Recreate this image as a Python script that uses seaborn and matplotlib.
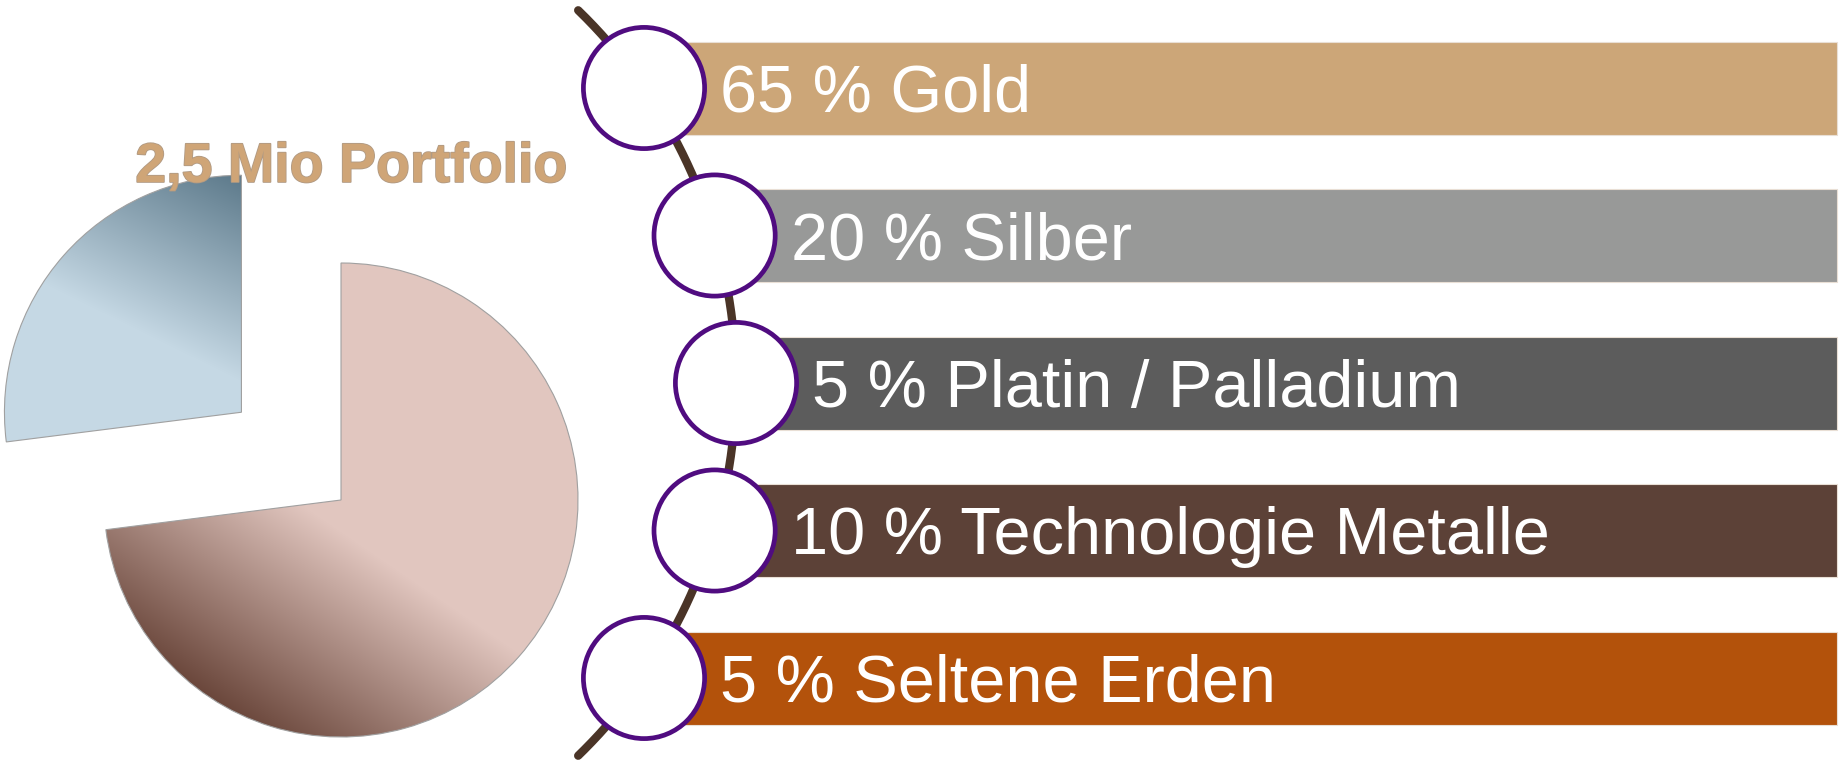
import numpy as np
import matplotlib
matplotlib.use("Agg")
import matplotlib.pyplot as plt
import matplotlib.patheffects as pe
from matplotlib.patches import Circle
from matplotlib.colors import to_rgb
import seaborn as sns

sns.set_theme(style="white")
plt.rcParams["font.family"] = ["Liberation Sans", "DejaVu Sans"]

# ---------- data ----------
title = "2,5 Mio Portfolio"
pie_shares = [73, 27]
pie_light = ["#e1c6bf", "#c5d8e4"]
pie_dark = ["#5a3529", "#5d7a8b"]

metals = ["Gold", "Silber", "Platin / Palladium", "Technologie Metalle", "Seltene Erden"]
metal_pct = [65, 20, 5, 10, 5]
metal_colors = ["#cca678", "#989998", "#5c5c5c", "#5c4137", "#b3520b"]

# canvas in pixel units (y up)
W, H = 1843, 761
fig = plt.figure(figsize=(W / 100, H / 100), dpi=100)
ax = fig.add_axes([0, 0, 1, 1])

# ---------- pie with gradient fills ----------
pie_r = 237
wedges, _ = ax.pie(pie_shares, startangle=90, counterclock=False,
                   explode=[0, 0.56 * pie_r],
                   center=(341, H - 500), radius=pie_r,
                   wedgeprops=dict(edgecolor="#a0a0a0", linewidth=0.8))

xx, yy = np.meshgrid(np.arange(W) + 0.5, np.arange(H) + 0.5)  # yy measured from top


def shade(wedge, light, dark, p0, nrm, span):
    t = ((xx - p0[0]) * nrm[0] + (yy - p0[1]) * nrm[1]) / span
    t = np.clip(t, 0, 1)[..., None]
    img = np.array(to_rgb(light)) * (1 - t) + np.array(to_rgb(dark)) * t
    im = ax.imshow(img, extent=(0, W, 0, H), origin="upper", zorder=1.5,
                   interpolation="bilinear")
    im.set_clip_path(wedge)
    wedge.set_facecolor("none")
    wedge.set_zorder(1.6)


shade(wedges[0], pie_light[0], pie_dark[0], (344, 534), (-0.564, 0.826), 240)
shade(wedges[1], pie_light[1], pie_dark[1], (59, 291), (0.443, -0.896), 183)

ax.text(351, H - 182, title, ha="center", va="baseline", fontsize=40,
        fontweight="bold", color="#cfa577", zorder=7,
        path_effects=[pe.withStroke(linewidth=1.2, foreground="#b09a84")])

# ---------- arc + circle list ----------
arc_cx, arc_cy, arc_r = 217, 383, 519
ang = np.radians(np.linspace(-45.9, 45.9, 300))
ax.plot(arc_cx + arc_r * np.cos(ang), H - (arc_cy + arc_r * np.sin(ang)),
        color="#4a3427", lw=6, solid_capstyle="round", zorder=3)

row_y = [88 + 147.5 * i for i in range(len(metals))]
circ_x = [arc_cx + np.sqrt(arc_r ** 2 - (y - arc_cy) ** 2) for y in row_y]

ax.barh([H - y for y in row_y], [1837 - x for x in circ_x], left=circ_x, height=93,
        color=metal_colors, edgecolor="#e9dfd5", linewidth=0.8, zorder=2)

for y, x, p, m in zip(row_y, circ_x, metal_pct, metals):
    ax.add_patch(Circle((x, H - y), 60.6, facecolor="white", edgecolor="#500c80",
                        lw=3.4, zorder=5))
    ax.text(x + 76, H - (y + 24), f"{p} % {m}", fontsize=48, color="white",
            ha="left", va="baseline", zorder=6)

ax.set_xlim(0, W)
ax.set_ylim(0, H)
ax.set_aspect("auto")
ax.axis("off")

fig.savefig("out.png", dpi=100)
